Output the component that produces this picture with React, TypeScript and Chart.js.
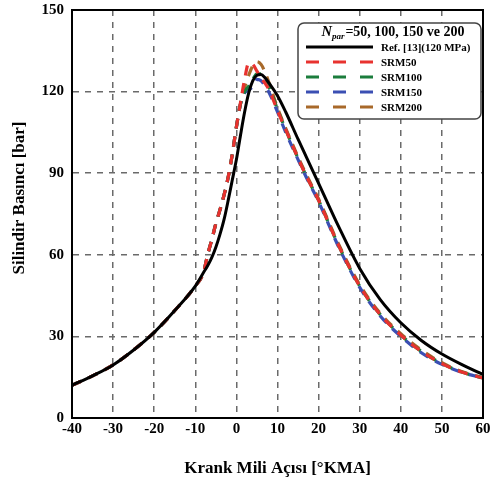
import React, { useEffect, useRef } from "react";
import { Chart, registerables } from "chart.js";

Chart.register(...registerables);

const angles = [-40, -35, -30, -25, -20, -15, -10, -8, -7, -6, -5, -4, -3, -2, -1, 0, 1, 2, 3, 4, 5, 6, 7, 8, 10, 12, 15, 17, 20, 25, 30, 35, 40, 45, 50, 55, 60];

const refValues = [12, 15.5, 19.5, 25, 31.5, 39.5, 48.5, 53.5, 56, 59, 62.8, 67.5, 73, 80, 87.5, 95, 104, 112.5, 119.5, 124, 126, 126.3, 125, 123, 118.5, 112.5, 102.5, 96, 86.3, 70, 55, 43.5, 35, 28.5, 23.5, 19.5, 16];
const srm50 = [12, 15.5, 19.5, 25, 31.5, 39.5, 48.5, 53.5, 60, 65.5, 71.5, 76.5, 82, 88.5, 97, 107, 116, 124.5, 130.5, 130, 127.5, 125, 123, 120.5, 113, 106, 95.5, 89, 80, 63, 48.5, 38, 30.5, 24.5, 20, 16.8, 14.7];
const srm100 = [12, 15.5, 19.5, 25, 31.5, 39.5, 48.5, 53.5, 60, 65.5, 71.5, 76.5, 82, 88.5, 97, 107, 115.5, 120, 122, 124.5, 126.5, 126.5, 124.5, 121.5, 113.5, 106, 95.5, 89, 80, 63, 48.5, 38, 30.5, 24.5, 20, 16.8, 14.7];
const srm150 = [12, 15.5, 19.5, 25, 31.5, 39.5, 48.5, 53.5, 60, 65.5, 71.5, 76.5, 82, 88.5, 97, 107, 115.5, 119.5, 120.5, 122, 124.5, 124, 122, 119.5, 112.5, 105, 95, 88.5, 79.5, 62.5, 48, 37.5, 30, 24, 19.7, 16.7, 14.7];
const srm200 = [12, 15.5, 19.5, 25, 31.5, 39.5, 48.5, 53.5, 60, 65.5, 71.5, 76.5, 82, 88.5, 97, 107, 115.5, 121.5, 126, 129.5, 131, 130, 127, 123, 114, 106.5, 96, 89.5, 80.5, 63.5, 49, 38.5, 31, 25, 20.3, 17, 14.8];

const seriesLabels = ["Ref. [13](120 MPa)", "SRM50", "SRM100", "SRM150", "SRM200"];
const seriesColors = ["#000000", "#e8322f", "#1b7d3c", "#3b4fb3", "#a8692a"];
const seriesValues = [refValues, srm50, srm100, srm150, srm200];

const xTitle = "Krank Mili Açısı [°KMA]";
const yTitle = "Silindir Basıncı [bar]";
const legendTitleRest = "=50, 100, 150 ve 200";

const SERIF = "'Liberation Serif', 'Times New Roman', serif";

const overlayPlugin = {
  id: "overlay",
  afterDraw(chart: any) {
    const ctx = chart.ctx;
    const a = chart.chartArea;
    ctx.save();
    // frame
    ctx.strokeStyle = "#000";
    ctx.lineWidth = 2;
    ctx.setLineDash([]);
    ctx.strokeRect(a.left, a.top, a.right - a.left, a.bottom - a.top);

    // axis titles
    ctx.fillStyle = "#000";
    ctx.font = `bold 17px ${SERIF}`;
    ctx.textAlign = "center";
    ctx.textBaseline = "middle";
    ctx.fillText(xTitle, (a.left + a.right) / 2, 469);
    ctx.save();
    ctx.translate(20, 198);
    ctx.rotate(-Math.PI / 2);
    ctx.fillText(yTitle, 0, 0);
    ctx.restore();

    // legend box
    const bx = 298, by = 23, bw = 183, bh = 96, r = 6;
    ctx.beginPath();
    ctx.moveTo(bx + r, by);
    ctx.arcTo(bx + bw, by, bx + bw, by + bh, r);
    ctx.arcTo(bx + bw, by + bh, bx, by + bh, r);
    ctx.arcTo(bx, by + bh, bx, by, r);
    ctx.arcTo(bx, by, bx + bw, by, r);
    ctx.closePath();
    ctx.fillStyle = "#fff";
    ctx.fill();
    ctx.strokeStyle = "#444";
    ctx.lineWidth = 1.5;
    ctx.stroke();

    // legend title
    ctx.fillStyle = "#000";
    ctx.textAlign = "left";
    ctx.textBaseline = "alphabetic";
    const fN = `italic bold 14.5px ${SERIF}`;
    const fSub = `italic bold 9px ${SERIF}`;
    const fRest = `bold 14px ${SERIF}`;
    ctx.font = fN;
    const wN = ctx.measureText("N").width;
    ctx.font = fSub;
    const wS = ctx.measureText("par").width;
    ctx.font = fRest;
    const wR = ctx.measureText(legendTitleRest).width;
    const total = wN + wS + wR + 1;
    let tx = 393 - total / 2;
    const ty = 36;
    ctx.font = fN;
    ctx.fillText("N", tx, ty);
    tx += wN;
    ctx.font = fSub;
    ctx.fillText("par", tx, ty + 3);
    tx += wS + 1;
    ctx.font = fRest;
    ctx.fillText(legendTitleRest, tx, ty);

    // legend entries
    ctx.font = `bold 11px ${SERIF}`;
    ctx.textBaseline = "middle";
    for (let i = 0; i < seriesLabels.length; i++) {
      const yy = 47 + i * 15;
      ctx.strokeStyle = seriesColors[i];
      ctx.lineWidth = 3;
      ctx.setLineDash(i === 0 ? [] : [13, 14]);
      ctx.beginPath();
      ctx.moveTo(306, yy);
      ctx.lineTo(373, yy);
      ctx.stroke();
      ctx.setLineDash([]);
      ctx.fillStyle = "#000";
      ctx.fillText(seriesLabels[i], 381, yy + 1);
    }
    ctx.restore();
  },
};

export default function App() {
  const ref = useRef<HTMLCanvasElement>(null);
  useEffect(() => {
    document.body.style.margin = "0";
    const datasets = seriesValues.map((vals, i) => ({
      label: seriesLabels[i],
      data: angles.map((x, j) => ({ x, y: vals[j] })),
      borderColor: seriesColors[i],
      backgroundColor: seriesColors[i],
      borderWidth: i === 0 ? 3 : 3.2,
      borderDash: i === 0 ? [] : [10, 8],
      pointRadius: 0,
      fill: false,
      cubicInterpolationMode: "monotone" as const,
      order: i,
    }));
    const chart = new Chart(ref.current as HTMLCanvasElement, {
      type: "line",
      data: { datasets },
      options: {
        responsive: false,
        animation: false,
        layout: { padding: { top: 10, right: 8, left: 0, bottom: 0 } },
        plugins: { legend: { display: false }, tooltip: { enabled: false } },
        scales: {
          x: {
            type: "linear",
            min: -40,
            max: 60,
            ticks: {
              stepSize: 10,
              color: "#000",
              font: { family: SERIF, size: 15, weight: "bold" },
              padding: 2,
              maxRotation: 0,
            },
            grid: { color: "#6a6a6a", lineWidth: 1.5, drawTicks: false },
            border: { display: true, color: "#000", width: 2, dash: [6, 6] },
            afterFit: (s: any) => {
              s.height = 67;
              s.paddingLeft = 0;
              s.paddingRight = 0;
            },
          },
          y: {
            min: 0,
            max: 150,
            ticks: {
              stepSize: 30,
              color: "#000",
              font: { family: SERIF, size: 15, weight: "bold" },
              padding: 8,
            },
            grid: { color: "#6a6a6a", lineWidth: 1.5, drawTicks: false },
            border: { display: true, color: "#000", width: 2, dash: [6, 6] },
            afterFit: (s: any) => {
              s.width = 72;
              s.paddingTop = 0;
              s.paddingBottom = 0;
            },
          },
        },
      },
      plugins: [overlayPlugin],
    });
    return () => chart.destroy();
  }, []);
  return (
    <div style={{ width: 491, height: 485 }}>
      <canvas ref={ref} width={491} height={485} />
    </div>
  );
}
